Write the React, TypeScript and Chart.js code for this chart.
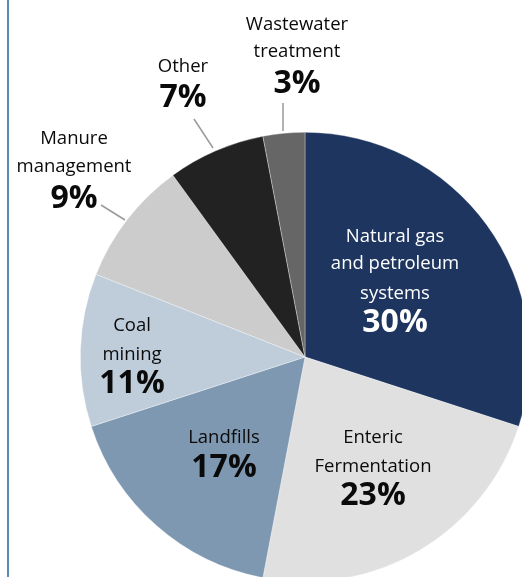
import React, { useEffect, useRef } from "react";
import { Chart, registerables } from "chart.js";

Chart.register(...registerables);

// ---- data ----
const categories = [
  "Natural gas and petroleum systems",
  "Enteric Fermentation",
  "Landfills",
  "Coal mining",
  "Manure management",
  "Other",
  "Wastewater treatment",
];
const labelLines = [
  ["Natural gas", "and petroleum", "systems"],
  ["Enteric", "Fermentation"],
  ["Landfills"],
  ["Coal", "mining"],
  ["Manure", "management"],
  ["Other"],
  ["Wastewater", "treatment"],
];
const shares = [30, 23, 17, 11, 9, 7, 3];

// ---- styles ----
const sliceColors = ["#1d355f", "#e0e0e0", "#7f98b1", "#bfcddb", "#cccccc", "#222222", "#666666"];
const textColors = ["#ffffff", "#0a0a0a", "#0a0a0a", "#0a0a0a", "#0a0a0a", "#0a0a0a", "#0a0a0a"];

// label placement, offsets from pie centre: x, y of each text line (last one = percentage)
const labelLayout = [
  { dx: 90, ys: [-122, -95, -65, -35] },
  { dx: 68, ys: [79, 108, 138] },
  { dx: -81, ys: [79, 110] },
  { dx: -173, ys: [-33, -4, 26] },
  { dx: -231, ys: [-220, -192, -159] },
  { dx: -122, ys: [-292, -260] },
  { dx: -8, ys: [-334, -307, -274] },
];
// leader lines, offsets from pie centre
const leaders = [
  [-22, -254, -22, -226],
  [-111, -238, -92, -209],
  [-204, -152, -180, -137],
];

const FONT = '"Open Sans", "Noto Sans", sans-serif';

const labelPlugin = {
  id: "sliceLabels",
  afterDraw(chart: any) {
    const ctx = chart.ctx;
    const arc = chart.getDatasetMeta(0).data[0];
    if (!arc) return;
    const cx = arc.x;
    const cy = arc.y;
    ctx.save();
    // left panel rule
    ctx.strokeStyle = "#5b8ab5";
    ctx.lineWidth = 2;
    ctx.beginPath();
    ctx.moveTo(8, 0);
    ctx.lineTo(8, chart.height);
    ctx.stroke();
    // leaders
    ctx.strokeStyle = "#9a9a9a";
    ctx.lineWidth = 1.5;
    leaders.forEach(([x1, y1, x2, y2]) => {
      ctx.beginPath();
      ctx.moveTo(cx + x1, cy + y1);
      ctx.lineTo(cx + x2, cy + y2);
      ctx.stroke();
    });
    ctx.textAlign = "center";
    ctx.textBaseline = "middle";
    shares.forEach((v, i) => {
      const lay = labelLayout[i];
      ctx.fillStyle = textColors[i];
      ctx.font = `18.5px ${FONT}`;
      labelLines[i].forEach((t, j) => {
        ctx.fillText(t, cx + lay.dx, cy + lay.ys[j] + 2);
      });
      ctx.font = `bold 32px ${FONT}`;
      ctx.fillText(`${v}%`, cx + lay.dx, cy + lay.ys[lay.ys.length - 1] + 1);
    });
    ctx.restore();
  },
};

export default function App() {
  const ref = useRef<HTMLCanvasElement>(null);
  useEffect(() => {
    if (!ref.current) return;
    const chart = new Chart(ref.current, {
      type: "pie",
      data: {
        labels: categories,
        datasets: [
          {
            data: shares,
            backgroundColor: sliceColors,
            borderColor: "rgba(255,255,255,0.55)",
            borderWidth: 0.6,
          },
        ],
      },
      options: {
        responsive: false,
        animation: false,
        devicePixelRatio: 1,
        layout: { padding: { left: 80, top: 132, right: 0, bottom: 0 } },
        plugins: { legend: { display: false }, tooltip: { enabled: false } },
      },
      plugins: [labelPlugin],
    });
    return () => chart.destroy();
  }, []);
  return (
    <div style={{ position: "fixed", left: 0, top: 0, width: 530, height: 582, overflow: "visible" }}>
      <canvas ref={ref} width={530} height={582} style={{ display: "block" }} />
    </div>
  );
}
